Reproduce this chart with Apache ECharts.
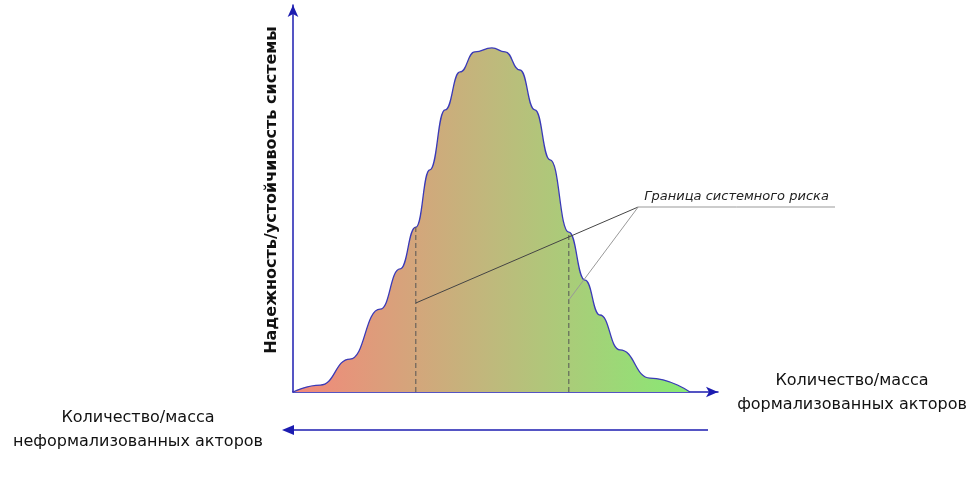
<!DOCTYPE html>
<html><head><meta charset="utf-8">
<script src="https://cdn.jsdelivr.net/npm/echarts@6/dist/echarts.min.js"></script>
<style>html,body{margin:0;background:#fff}#c{width:976px;height:495px}</style>
</head><body><div id="c"></div>
<script>
// bell curve, x and y on 0..100 scales
const curveX = [0, 6.4, 13.4, 20.5, 25.2, 28.9, 32.2, 35.8, 39.3, 42.8, 46.8, 49.9, 53.4, 56.9, 60.5, 64.9, 68.7, 72.2, 76.9, 84.0, 93.4];
const curveY = [0, 1.8, 8.5, 21.4, 31.8, 42.6, 57.4, 72.9, 82.7, 87.9, 88.9, 87.9, 83.2, 72.9, 60.0, 41.3, 28.9, 19.9, 10.9, 3.6, 0];
const riskX = [28.9, 64.9];
const riskTop = [42.6, 41.3];
const riskDot = [23.0, 23.8];
const labelAnchor = [81.2, 47.8];
const labelEnd = 127.5;
const yTitle = "Надежность/устойчивость системы";
const xTitle = "Количество/масса\nформализованных акторов";
const backTitle = "Количество/масса\nнеформализованных акторов";
const riskLabel = "Граница системного риска";

const font = "DejaVu Sans";
const chart = echarts.init(document.getElementById("c"));
const series = [
  {
    type: "line", smooth: 0.5, smoothMonotone: "x", symbol: "none",
    data: curveX.map((x, i) => [x, curveY[i]]),
    lineStyle: { color: "#3a3ab8", width: 1.3 },
    areaStyle: {
      opacity: 1,
      color: new echarts.graphic.LinearGradient(0, 0, 1, 0, [
        { offset: 0, color: "#f4877a" },
        { offset: 0.5, color: "#bfb97c" },
        { offset: 1, color: "#88ea74" },
      ]),
    },
    z: 2,
  },
];
riskX.forEach((x, i) => {
  series.push({
    type: "line", symbol: "none", z: 3,
    data: [[x, 0], [x, riskTop[i]]],
    lineStyle: { color: "#555", width: 1, type: [5, 3] },
  });
  series.push({
    type: "line", xAxisIndex: 1, yAxisIndex: 1, z: 4,
    data: [[x, riskDot[i]], labelAnchor],
    symbol: "circle", symbolSize: [3, 0],
    itemStyle: { color: "#222" },
    lineStyle: { color: i === 0 ? "#444" : "#999", width: 1 },
  });
});
series.push({
  type: "line", xAxisIndex: 1, yAxisIndex: 1, symbol: "circle", symbolSize: 0, z: 4,
  data: [
    labelAnchor,
    { value: [(labelAnchor[0] + labelEnd) / 2, labelAnchor[1]],
      label: { show: true, formatter: riskLabel, position: "top", distance: 4,
        fontFamily: font, fontStyle: "italic", fontSize: 13, color: "#222" } },
    [labelEnd, labelAnchor[1]],
  ],
  lineStyle: { color: "#999", width: 1 },
});

const hidden = { axisLine: { show: false }, axisTick: { show: false }, axisLabel: { show: false }, splitLine: { show: false } };
chart.setOption({
  animation: false,
  grid: [
    { left: 293, right: 258, top: 5, bottom: 103 },
    { left: 293, right: 141, top: 5, bottom: 103 },
  ],
  xAxis: [{
    type: "value", min: 0, max: 100,
    axisLine: { lineStyle: { color: "#1c1cb0", width: 1.5 }, symbol: ["none", "arrow"], symbolSize: [8, 12] },
    axisTick: { show: false }, axisLabel: { show: false }, splitLine: { show: false },
  }, { type: "value", gridIndex: 1, min: 0, max: labelEnd, ...hidden }],
  yAxis: [{
    type: "value", min: 0, max: 100,
    axisLine: { show: true, lineStyle: { color: "#1c1cb0", width: 1.5 }, symbol: ["none", "arrow"], symbolSize: [8, 12] },
    axisTick: { show: false }, axisLabel: { show: false }, splitLine: { show: false },
  }, { type: "value", gridIndex: 1, min: 0, max: 100, ...hidden }],
  graphic: [
    { type: "text", x: 272, y: 190, rotation: Math.PI / 2,
      style: { text: yTitle, font: "bold 16px '" + font + "'", fill: "#111", align: "center", verticalAlign: "middle" } },
    { type: "text", x: 852, y: 393,
      style: { text: xTitle, font: "16px '" + font + "'", fill: "#111", align: "center", verticalAlign: "middle", lineHeight: 24 } },
    { type: "text", x: 138, y: 430,
      style: { text: backTitle, font: "16px '" + font + "'", fill: "#111", align: "center", verticalAlign: "middle", lineHeight: 24 } },
    { type: "line", shape: { x1: 708, y1: 430, x2: 290, y2: 430 },
      style: { stroke: "#1c1cb0", lineWidth: 1.5 } },
    { type: "polygon", shape: { points: [[282, 430], [294, 425], [294, 435]] },
      style: { fill: "#1c1cb0" } },
  ],
  series,
});
</script></body></html>
